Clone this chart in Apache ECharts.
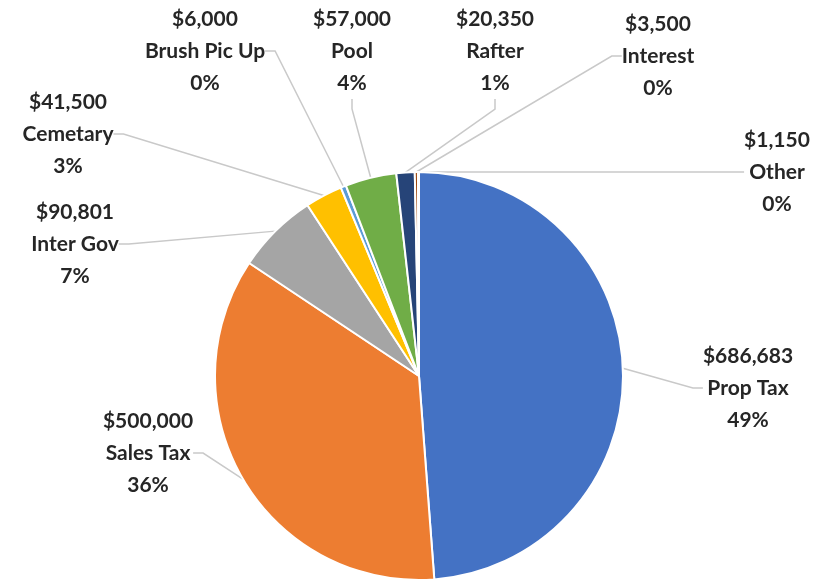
<!DOCTYPE html>
<html>
<head>
<meta charset="utf-8">
<script src="https://cdn.jsdelivr.net/npm/echarts@6/dist/echarts.min.js"></script>
<style>html,body{margin:0;padding:0;background:#fff;}#c{width:820px;height:582px;}</style>
</head>
<body>
<div id="c"></div>
<script>
const categories = ['Prop Tax','Sales Tax','Inter Gov','Cemetary','Brush Pic Up','Pool','Rafter','Interest','Other'];
const values = [686683, 500000, 90801, 41500, 6000, 57000, 20350, 3500, 1150];
const colors = ['#4472C4','#ED7D31','#A5A5A5','#FFC000','#5B9BD5','#70AD47','#264478','#9E480E','#636363'];
// label centre positions (layout only)
const labelPos = [[748,388],[148,453],[75,244],[68,134],[205,51],[352,51],[495,51],[658,56],[777,172]];

const chart = echarts.init(document.getElementById('c'));
chart.setOption({
  animation:false,
  backgroundColor:'#fff',
  series:[{
    type:'pie',
    center:[419,376],
    radius:[0,204],
    startAngle:90,
    clockwise:true,
    percentPrecision:0,
    data: categories.map((n,i)=>({name:n,value:values[i],itemStyle:{color:colors[i]}})),
    itemStyle:{borderColor:'#fff',borderWidth:2},
    label:{
      show:true,
      position:'outside',
      formatter:p=>'$'+p.value.toLocaleString('en-US')+'\n'+p.name+'\n'+p.percent+'%',
      fontFamily:'Lato',
      fontWeight:'bold',
      fontSize:21,
      lineHeight:32,
      color:'#262626',
      align:'center'
    },
    labelLine:{show:true,length:20,length2:10,lineStyle:{color:'#c9c9c9',width:1.5}},
    labelLayout:function(p){
      const pos = labelPos[p.dataIndex];
      return {x:pos[0],y:pos[1],align:'center',verticalAlign:'middle'};
    }
  }]
});
</script>
</body>
</html>
